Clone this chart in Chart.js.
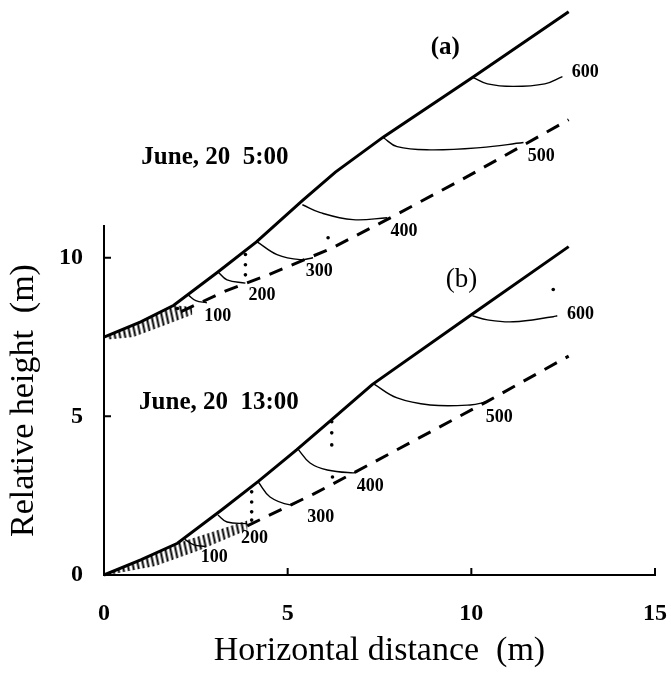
<!DOCTYPE html>
<html lang="en">
  <head>
    <meta charset="UTF-8" />
    <title>Relative height profiles</title>
    <script src="https://cdn.jsdelivr.net/npm/chart.js"></script>
    <style>
      body {
        margin: 0;
        background-color: #fff;
      }

      .chart-container {
        width: 671px;
        height: 673px;
      }
    </style>
  </head>
  <body>
    <div class="chart-container">
      <canvas id="profileChart" width="671" height="673"></canvas>
    </div>

    <script>
      // tick labels
      const xTicks = [0, 5, 10, 15];
      const yTicks = [0, 5, 10];

      // (a) June 20, 5:00
      const surfaceA = [[0, 7.5], [1.0, 7.98], [1.9, 8.5], [3.1, 9.55], [4.15, 10.5], [5.4, 11.8], [6.3, 12.7], [7.6, 13.8], [10.05, 15.7], [12.65, 17.75]];
      const baseA = [[2.1, 8.3], [3.3, 8.95], [4.45, 9.45], [6.2, 10.3], [7.7, 11.2], [9.8, 12.5], [12.65, 14.35]];
      const hatchA = [[0.1, 7.5], [1.0, 7.98], [1.9, 8.5], [2.4, 8.45], [2.4, 8.2], [1.6, 7.85], [0.8, 7.5], [0.1, 7.42]];
      const arcsA = [
        [[2.29, 8.83], [2.5, 8.65], [2.8, 8.58]],
        [[3.1, 9.56], [3.35, 9.3], [3.85, 9.2]],
        [[4.17, 10.5], [4.71, 10.1], [5.34, 9.94], [5.69, 10.0]],
        [[5.4, 11.67], [5.89, 11.42], [6.78, 11.2], [7.71, 11.26]],
        [[7.6, 13.79], [7.98, 13.5], [8.88, 13.4], [10.24, 13.47], [11.42, 13.63]],
        [[10.05, 15.68], [10.44, 15.48], [11.14, 15.4], [12.0, 15.48], [12.48, 15.71]],
      ];
      const dotsA = [[2.0, 8.4], [3.85, 10.1], [3.85, 9.78], [3.85, 9.46], [6.1, 12.2], [6.1, 11.9], [6.1, 11.45], [6.1, 10.63], [12.23, 16.3], [12.23, 15.36]];
      const labelAtA = [[3.1, 8.14], [4.3, 8.8], [5.86, 9.56], [8.17, 10.82], [11.9, 13.19], [13.1, 15.84]];

      // (b) June 20, 13:00
      const surfaceB = [[0, 0], [1.0, 0.48], [2.0, 1.0], [3.2, 2.05], [4.2, 2.95], [5.25, 3.95], [6.2, 4.9], [6.6, 5.3], [7.3, 6.0], [10.0, 8.2], [12.65, 10.35]];
      const baseB = [[3.9, 1.55], [5.7, 2.55], [6.85, 3.25], [10.4, 5.45], [12.65, 6.9]];
      const hatchB = [[0.1, 0.02], [2.0, 1.0], [3.9, 1.72], [3.9, 1.42], [2.6, 0.78], [1.4, 0.28], [0.1, 0]];
      const arcsB = [
        [[2.2, 1.12], [2.45, 0.95], [2.75, 0.9]],
        [[3.1, 1.89], [3.35, 1.67], [3.9, 1.62]],
        [[4.2, 2.93], [4.52, 2.46], [5.07, 2.21], [5.26, 2.3]],
        [[5.26, 4.0], [5.61, 3.53], [6.08, 3.31], [6.78, 3.22], [6.89, 3.25]],
        [[7.33, 6.03], [7.98, 5.58], [8.88, 5.36], [9.97, 5.36], [10.44, 5.46]],
        [[10.03, 8.17], [10.44, 8.04], [11.14, 7.98], [12.23, 8.14], [12.34, 8.17]],
      ];
      const dotsB = [[4.02, 2.62], [4.02, 2.3], [4.02, 1.99], [4.02, 1.73], [6.2, 4.83], [6.2, 4.48], [6.2, 4.1], [6.22, 3.09], [12.23, 9.0]];
      const labelAtB = [[3.0, 0.57], [4.1, 1.17], [5.9, 1.83], [7.25, 2.78], [10.76, 4.98], [12.97, 8.2]];

      const contourLabels = ["100", "200", "300", "400", "500", "600"];
      const notes = [
        { text: "(a)", at: [9.29, 16.62], bold: true, size: 25 },
        { text: "(b)", at: [9.73, 9.3], bold: false, size: 27 },
        { text: "June, 20  5:00", at: [3.02, 13.15], bold: true, size: 25 },
        { text: "June, 20  13:00", at: [3.13, 5.43], bold: true, size: 25 },
      ];

      const serif = '"Liberation Serif", "DejaVu Serif", serif';

      // hatch pattern for the shaded ground
      function hatchPattern() {
        const c = document.createElement("canvas");
        c.width = 5;
        c.height = 5;
        const g = c.getContext("2d");
        g.fillStyle = "#000";
        g.fillRect(1.5, 0, 2, 5);
        const p = g.createPattern(c, "repeat");
        p.setTransform(new DOMMatrix().rotateSelf(-12));
        return p;
      }

      function line(data, width, dash, tension) {
        return {
          data: data,
          showLine: true,
          borderColor: "#000",
          borderWidth: width,
          borderDash: dash || [],
          tension: tension || 0,
          pointRadius: 0,
          fill: false,
          clip: false,
        };
      }

      const datasets = [];
      [hatchA, hatchB].forEach((h) => {
        datasets.push({
          data: h,
          showLine: true,
          borderWidth: 0,
          borderColor: "rgba(0,0,0,0)",
          backgroundColor: hatchPattern(),
          fill: "shape",
          pointRadius: 0,
          clip: false,
        });
      });
      arcsA.concat(arcsB).forEach((a) => datasets.push(line(a, 1.4, [], 0.4)));
      datasets.push(line(baseA, 3, [14, 10]));
      datasets.push(line(baseB, 3, [14, 10]));
      datasets.push(line(surfaceA, 3));
      datasets.push(line(surfaceB, 3));
      [dotsA, dotsB].forEach((d) => {
        datasets.push({
          data: d,
          showLine: false,
          pointRadius: 1.8,
          pointBackgroundColor: "#000",
          pointBorderWidth: 0,
          clip: false,
        });
      });

      // inward ticks and the text written on the figure
      const figureText = {
        id: "figureText",
        afterDatasetsDraw(chart) {
          const { ctx, scales } = chart;
          const x = scales.x;
          const y = scales.y;
          ctx.save();
          ctx.strokeStyle = "#000";
          ctx.lineWidth = 2;
          ctx.beginPath();
          xTicks.slice(1).forEach((v) => {
            const px = x.getPixelForValue(v);
            ctx.moveTo(px, y.bottom);
            ctx.lineTo(px, y.bottom - 7);
          });
          yTicks.slice(1).forEach((v) => {
            const py = y.getPixelForValue(v);
            ctx.moveTo(x.left, py);
            ctx.lineTo(x.left + 7, py);
          });
          ctx.stroke();

          ctx.fillStyle = "#000";
          ctx.textAlign = "center";
          ctx.textBaseline = "middle";
          ctx.font = "bold 18px " + serif;
          [labelAtA, labelAtB].forEach((pos) => {
            pos.forEach((p, i) => {
              ctx.fillText(contourLabels[i], x.getPixelForValue(p[0]), y.getPixelForValue(p[1]));
            });
          });
          notes.forEach((n) => {
            ctx.font = (n.bold ? "bold " : "") + n.size + "px " + serif;
            ctx.fillText(n.text, x.getPixelForValue(n.at[0]), y.getPixelForValue(n.at[1]));
          });
          ctx.restore();
        },
      };

      const ctx = document.getElementById("profileChart").getContext("2d");
      new Chart(ctx, {
        type: "scatter",
        data: { datasets: datasets },
        options: {
          responsive: false,
          animation: false,
          layout: { padding: { top: 226, right: 16, left: 0, bottom: 0 } },
          plugins: { legend: { display: false }, tooltip: { enabled: false } },
          scales: {
            x: {
              type: "linear",
              min: 0,
              max: 15,
              afterFit: (s) => {
                s.height = 98;
                s.paddingLeft = 0;
                s.paddingRight = 0;
              },
              afterBuildTicks: (s) => { s.ticks = xTicks.map((v) => ({ value: v })); },
              grid: { display: false, drawTicks: false },
              border: { display: true, color: "#000", width: 2 },
              ticks: {
                padding: 24,
                color: "#000",
                font: { family: serif, size: 24, weight: "bold" },
              },
              title: {
                display: true,
                text: "Horizontal distance  (m)",
                color: "#000",
                font: { family: serif, size: 34 },
                padding: { top: 0, bottom: 2 },
              },
            },
            y: {
              type: "linear",
              min: 0,
              max: 11,
              afterFit: (s) => {
                s.width = 104;
                s.paddingTop = 0;
                s.paddingBottom = 0;
              },
              afterBuildTicks: (s) => { s.ticks = yTicks.map((v) => ({ value: v })); },
              grid: { display: false, drawTicks: false },
              border: { display: true, color: "#000", width: 2 },
              ticks: {
                padding: 21,
                color: "#000",
                font: { family: serif, size: 24, weight: "bold" },
              },
              title: {
                display: true,
                text: "Relative height  (m)",
                color: "#000",
                font: { family: serif, size: 34 },
                padding: { top: 4, bottom: 0 },
              },
            },
          },
        },
        plugins: [figureText],
      });
    </script>
  </body>
</html>
